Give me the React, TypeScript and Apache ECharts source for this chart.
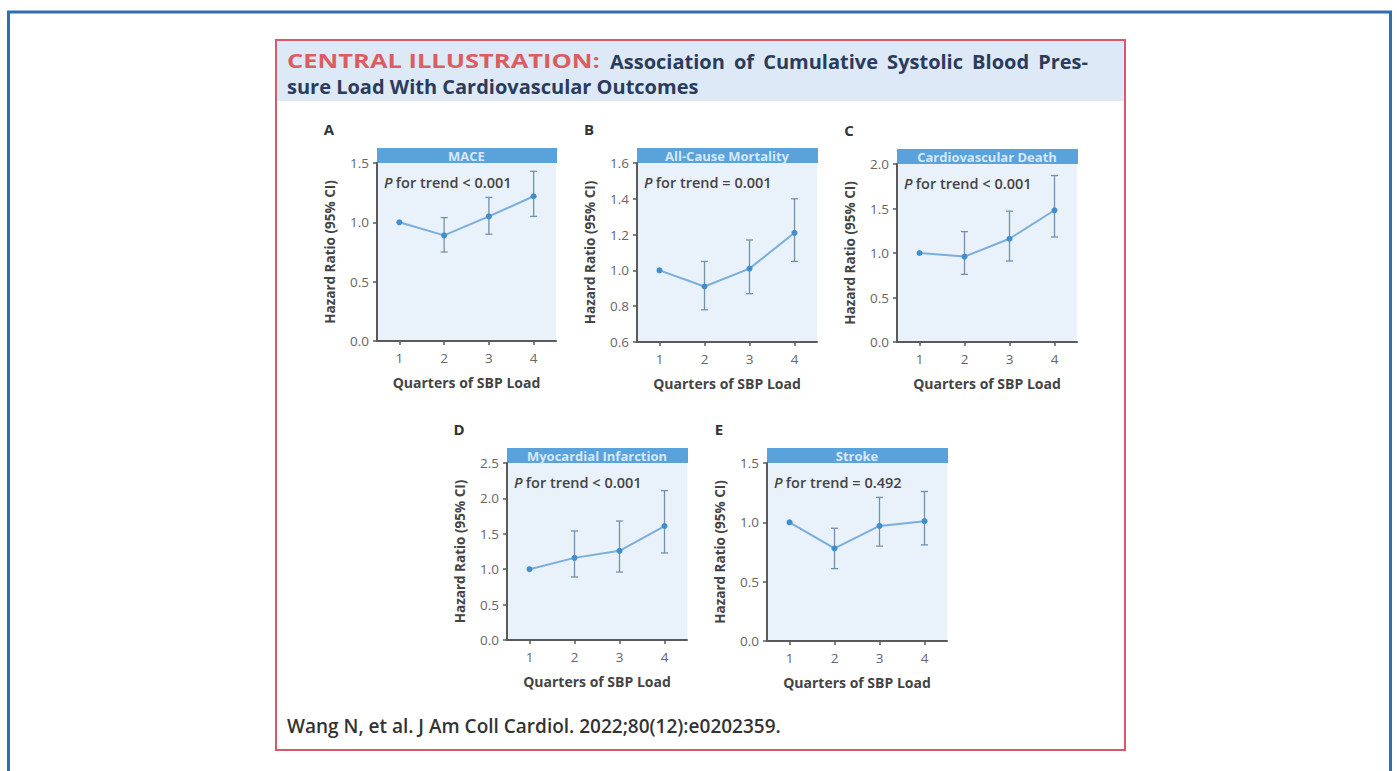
import React, { useEffect, useRef } from "react";
import * as echarts from "echarts";

// ---------- data ----------
const categories = ["1", "2", "3", "4"];
const panelTitles = ["MACE", "All-Cause Mortality", "Cardiovascular Death", "Myocardial Infarction", "Stroke"];
const panelLetters = ["A", "B", "C", "D", "E"];
const trendTexts = ["< 0.001", "= 0.001", "< 0.001", "< 0.001", "= 0.492"];

const maceHR = [1.0, 0.89, 1.05, 1.22];
const maceLow = [null, 0.75, 0.9, 1.05];
const maceHigh = [null, 1.04, 1.21, 1.43];

const mortHR = [1.0, 0.91, 1.01, 1.21];
const mortLow = [null, 0.78, 0.87, 1.05];
const mortHigh = [null, 1.05, 1.17, 1.4];

const cvdHR = [1.0, 0.96, 1.16, 1.48];
const cvdLow = [null, 0.76, 0.91, 1.18];
const cvdHigh = [null, 1.24, 1.47, 1.87];

const miHR = [1.0, 1.16, 1.26, 1.61];
const miLow = [null, 0.89, 0.96, 1.23];
const miHigh = [null, 1.54, 1.68, 2.11];

const strokeHR = [1.0, 0.78, 0.97, 1.01];
const strokeLow = [null, 0.61, 0.8, 0.81];
const strokeHigh = [null, 0.95, 1.21, 1.26];

const yMins = [0, 0.6, 0, 0, 0];
const yMaxs = [1.5, 1.6, 2.0, 2.5, 1.5];
const yIntervals = [0.5, 0.2, 0.5, 0.5, 0.5];

const hrSeries = [maceHR, mortHR, cvdHR, miHR, strokeHR];
const lowSeries = [maceLow, mortLow, cvdLow, miLow, strokeLow];
const highSeries = [maceHigh, mortHigh, cvdHigh, miHigh, strokeHigh];

const titleRed = "CENTRAL ILLUSTRATION:";
const titleLine1 = "Association of Cumulative Systolic Blood Pres-";
const titleLine2 = "sure Load With Cardiovascular Outcomes";
const citation = "Wang N, et al. J Am Coll Cardiol. 2022;80(12):e0202359.";
const yAxisName = "Hazard Ratio (95% CI)";
const xAxisName = "Quarters of SBP Load";

// ---------- layout ----------
const layouts = [
  { left: 377, top: 163, width: 179, height: 178 },
  { left: 637, top: 163, width: 180, height: 179 },
  { left: 897, top: 164, width: 180, height: 178 },
  { left: 507, top: 463, width: 180, height: 177 },
  { left: 767, top: 463, width: 180, height: 178 },
];

const FONT_NAME = "Open Sans";
const FONT = "'Open Sans', 'Noto Sans', sans-serif";
const AXIS_COLOR = "#5a5a5a";
const LABEL_COLOR = "#666";
const HEADER_BLUE = "#5aa2dc";
const PLOT_BG = "#e9f1fa";
const LINE_BLUE = "#7aaedc";
const POINT_BLUE = "#3f8fcf";
const ERR_COLOR = "#7491a9";
const NAVY = "#2b3b5c";
const RED = "#dc5d5f";
const TITLE_SIZE = 20;
const RED_SIZE = 19;

function measure(text: string, font: string): number {
  const c = document.createElement("canvas").getContext("2d");
  if (!c) return text.length * 10;
  c.font = font;
  return c.measureText(text).width;
}

export default function App() {
  const ref = useRef<HTMLDivElement>(null);

  useEffect(() => {
    if (!ref.current) return;
    const chart = echarts.init(ref.current, null, { renderer: "svg" });

    const grids: any[] = [];
    const xAxes: any[] = [];
    const yAxes: any[] = [];
    const series: any[] = [];
    const graphics: any[] = [];

    // outer blue frame
    graphics.push({
      type: "rect",
      shape: { x: 8.5, y: 12, width: 1382, height: 820 },
      style: { fill: "#fff", stroke: "#2f6fae", lineWidth: 3 },
      z: -10,
    });
    // red framed figure
    graphics.push({
      type: "rect",
      shape: { x: 276, y: 40, width: 849, height: 710 },
      style: { fill: "#fff", stroke: "#d65a6a", lineWidth: 2 },
      z: -9,
    });
    // title band
    graphics.push({
      type: "rect",
      shape: { x: 277, y: 41, width: 847, height: 60 },
      style: { fill: "#dde9f6" },
      z: -8,
    });

    // red label, widened to mimic letter spacing
    const redStart = 287;
    const redEnd = 600;
    const redNat = measure(titleRed, `bold ${RED_SIZE}px "${FONT_NAME}"`);
    const redScale = Math.max(1, Math.min(1.5, (redEnd - redStart) / redNat));
    graphics.push({
      type: "text",
      x: redStart,
      y: 61,
      scaleX: redScale,
      style: {
        text: titleRed,
        fontFamily: FONT,
        fontSize: RED_SIZE,
        fontWeight: "bold",
        fill: RED,
        textVerticalAlign: "middle",
        lineHeight: 20,
      },
    });

    // navy first line, justified to the band
    const words = titleLine1.split(" ");
    const tFont = `bold ${TITLE_SIZE}px "${FONT_NAME}"`;
    const widths = words.map((w) => measure(w, tFont));
    const startX = 610;
    const endX = 1088;
    const total = widths.reduce((a, b) => a + b, 0);
    const gap = Math.max(5, (endX - startX - total) / (words.length - 1));
    let cx = startX;
    words.forEach((w, k) => {
      graphics.push({
        type: "text",
        x: cx,
        y: 61,
        style: {
          text: w,
          fontFamily: FONT,
          fontSize: TITLE_SIZE,
          fontWeight: "bold",
          fill: NAVY,
          textVerticalAlign: "middle",
          lineHeight: 20,
        },
      });
      cx += widths[k] + gap;
    });
    graphics.push({
      type: "text",
      x: 287,
      y: 86,
      style: {
        text: titleLine2,
        fontFamily: FONT,
        fontSize: TITLE_SIZE,
        fontWeight: "bold",
        fill: NAVY,
        textVerticalAlign: "middle",
        lineHeight: 20,
      },
    });
    graphics.push({
      type: "text",
      x: 287,
      y: 726,
      style: {
        text: citation,
        fontFamily: FONT,
        fontSize: 19,
        fontWeight: 600,
        fill: "#333",
        textVerticalAlign: "middle",
      },
    });

    layouts.forEach((L, i) => {
      grids.push({
        left: L.left,
        top: L.top,
        width: L.width,
        height: L.height,
        show: true,
        backgroundColor: PLOT_BG,
        borderWidth: 0,
      });
      xAxes.push({
        type: "category",
        gridIndex: i,
        data: categories,
        boundaryGap: true,
        axisLine: { show: true, onZero: false, lineStyle: { color: AXIS_COLOR, width: 2 } },
        axisTick: { show: true, alignWithLabel: true, length: 4, lineStyle: { color: AXIS_COLOR, width: 1.5 } },
        axisLabel: { color: LABEL_COLOR, fontSize: 13.5, fontFamily: FONT, margin: 10 },
        name: xAxisName,
        nameLocation: "middle",
        nameGap: 34,
        nameTextStyle: { color: "#444", fontSize: 14, fontWeight: "bold", fontFamily: FONT },
        splitLine: { show: false },
      });
      yAxes.push({
        type: "value",
        gridIndex: i,
        min: yMins[i],
        max: yMaxs[i],
        interval: yIntervals[i],
        axisLine: { show: true, onZero: false, lineStyle: { color: AXIS_COLOR, width: 2 } },
        axisTick: { show: true, length: 4, lineStyle: { color: AXIS_COLOR, width: 1.5 } },
        axisLabel: {
          color: LABEL_COLOR,
          fontSize: 13.5,
          fontFamily: FONT,
          margin: 8,
          formatter: (v: number) => v.toFixed(1),
        },
        splitLine: { show: false },
        name: yAxisName,
        nameLocation: "middle",
        nameGap: 40,
        nameRotate: 90,
        nameTextStyle: { color: "#444", fontSize: 13.5, fontWeight: "bold", fontFamily: FONT },
      });

      const errData: any[] = [];
      lowSeries[i].forEach((lo, k) => {
        const hi = highSeries[i][k];
        if (lo != null && hi != null) errData.push([k, lo, hi]);
      });

      series.push({
        type: "custom",
        xAxisIndex: i,
        yAxisIndex: i,
        data: errData,
        z: 3,
        renderItem: (params: any, api: any) => {
          const x = api.value(0);
          const lo = api.coord([x, api.value(1)]);
          const hi = api.coord([x, api.value(2)]);
          const w = 3.5;
          const st = { stroke: ERR_COLOR, lineWidth: 1.3 };
          return {
            type: "group",
            children: [
              { type: "line", shape: { x1: lo[0], y1: lo[1], x2: hi[0], y2: hi[1] }, style: st },
              { type: "line", shape: { x1: lo[0] - w, y1: lo[1], x2: lo[0] + w, y2: lo[1] }, style: st },
              { type: "line", shape: { x1: hi[0] - w, y1: hi[1], x2: hi[0] + w, y2: hi[1] }, style: st },
            ],
          };
        },
      });
      series.push({
        type: "line",
        xAxisIndex: i,
        yAxisIndex: i,
        data: hrSeries[i],
        symbol: "circle",
        symbolSize: 6,
        z: 4,
        lineStyle: { color: LINE_BLUE, width: 2 },
        itemStyle: { color: POINT_BLUE },
      });

      // header bar
      graphics.push({
        type: "rect",
        shape: { x: L.left, y: L.top - 15, width: L.width + 1, height: 15 },
        style: { fill: HEADER_BLUE },
      });
      graphics.push({
        type: "text",
        x: L.left + L.width / 2,
        y: L.top - 7.5,
        style: {
          text: panelTitles[i],
          fontFamily: FONT,
          fontSize: 13,
          fontWeight: "bold",
          fill: "#d6e8f8",
          textAlign: "center",
          textVerticalAlign: "middle",
        },
      });
      // panel letter
      graphics.push({
        type: "text",
        x: L.left - 48,
        y: L.top - 34,
        style: {
          text: panelLetters[i],
          fontFamily: FONT,
          fontSize: 15,
          fontWeight: "bold",
          fill: "#333",
          textAlign: "center",
          textVerticalAlign: "middle",
        },
      });
      // P for trend
      graphics.push({
        type: "text",
        x: L.left + 7,
        y: L.top + 19,
        z: 10,
        style: {
          text: `{i|P} {n|for trend ${trendTexts[i]}}`,
          textVerticalAlign: "middle",
          rich: {
            i: { fontFamily: FONT, fontSize: 14.5, fontStyle: "italic", fontWeight: 600, fill: "#444", color: "#444" },
            n: { fontFamily: FONT, fontSize: 14.5, fontWeight: 600, fill: "#444", color: "#444" },
          },
        },
      });
    });

    chart.setOption({
      animation: false,
      backgroundColor: "#fff",
      grid: grids,
      xAxis: xAxes,
      yAxis: yAxes,
      series,
      graphic: { elements: graphics },
    });

    return () => chart.dispose();
  }, []);

  return (
    <div
      ref={ref}
      style={{ position: "fixed", left: 0, top: 0, width: 1397, height: 771 }}
    />
  );
}
